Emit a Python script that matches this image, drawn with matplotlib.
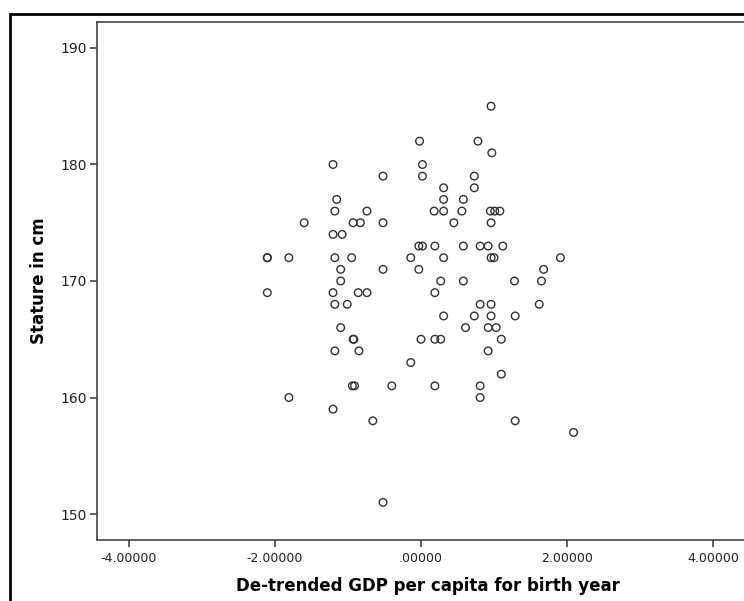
import matplotlib.pyplot as plt
from matplotlib.patches import Rectangle
from matplotlib.ticker import FuncFormatter

# De-trended GDP per capita for birth year (x) and stature in cm (y)
gdp = [-0.02, -1.205, 0.02, -0.52, 0.02, -1.155, -1.18, -0.74, -1.60, -0.93,
       -0.83, -0.52, -1.205, -1.08, -0.03, 0.02, -2.105, -2.105, -1.81, -1.18,
       -0.95, -0.14, -1.10, -0.52, -0.03, -1.10, -2.105, -1.205, -0.86, -0.74,
       -1.18, -1.01,
       0.96, 0.78, 0.97, 0.73, 0.31, 0.73, 0.31, 0.58, 0.18, 0.31,
       0.56, 0.95, 1.01, 1.08, 0.45, 0.96, 0.19, 0.58, 0.81, 0.92,
       1.12, 0.31, 0.96, 1.00, 1.91, 1.68, 0.27, 0.58, 1.28, 1.65,
       -1.10, -0.92, -0.93, 0.00, -1.18, -0.85, -0.14, -0.94, -0.91, -0.40,
       -1.81, -1.205, -0.66, -0.52,
       0.19, 0.81, 0.96, 1.62, 0.31, 0.73, 0.96, 1.29, 0.61, 0.92,
       1.03, 0.19, 0.27, 1.10, 0.92, 1.10, 0.19, 0.81, 0.81, 1.29, 2.09]
stature = [182, 180, 180, 179, 179, 177, 176, 176, 175, 175,
           175, 175, 174, 174, 173, 173, 172, 172, 172, 172,
           172, 172, 171, 171, 171, 170, 169, 169, 169, 169,
           168, 168,
           185, 182, 181, 179, 178, 178, 177, 177, 176, 176,
           176, 176, 176, 176, 175, 175, 173, 173, 173, 173,
           173, 172, 172, 172, 172, 171, 170, 170, 170, 170,
           166, 165, 165, 165, 164, 164, 163, 161, 161, 161,
           160, 159, 158, 151,
           169, 168, 168, 168, 167, 167, 167, 167, 166, 166,
           166, 165, 165, 165, 164, 162, 161, 161, 160, 158, 157]

x_ticks = [-4, -2, 0, 2, 4]
y_ticks = [150, 160, 170, 180, 190]

fig = plt.figure(figsize=(7.44, 6.01), dpi=100)

# outer black frame (cut off at right and bottom like the screenshot)
fig.patches.append(Rectangle((10 / 744, -0.05), 1.0, (601 - 14) / 601 + 0.05,
                             transform=fig.transFigure, fill=False,
                             edgecolor='black', linewidth=2.0, zorder=0))

ax = fig.add_axes([97 / 744, 61 / 601, 648 / 744, 518 / 601])
ax.scatter(gdp, stature, s=30, facecolors='none', edgecolors='#333333',
           linewidths=1.0, zorder=3)

ax.set_xlim(-4.438, 4.438)
ax.set_ylim(147.77, 192.23)
ax.set_xticks(x_ticks)
ax.set_yticks(y_ticks)


def fmt_x(v, pos):
    s = f'{v:.5f}'
    if s.startswith('0'):
        s = s[1:]
    return s


ax.xaxis.set_major_formatter(FuncFormatter(fmt_x))
ax.tick_params(axis='x', labelsize=9, length=5, width=1.2, color='#444444',
               labelcolor='#222222', pad=4)
ax.tick_params(axis='y', labelsize=10, length=5, width=1.2, color='#444444',
               labelcolor='#222222', pad=2)
for sp in ax.spines.values():
    sp.set_color('#444444')
    sp.set_linewidth(1.2)

ax.set_xlabel('De-trended GDP per capita for birth year', fontsize=12,
              fontweight='bold', labelpad=8)
ax.xaxis.set_label_coords(0.511, -0.072)
ax.set_ylabel('Stature in cm', fontsize=12, fontweight='bold', labelpad=9)

fig.savefig('out.png', dpi=100)
